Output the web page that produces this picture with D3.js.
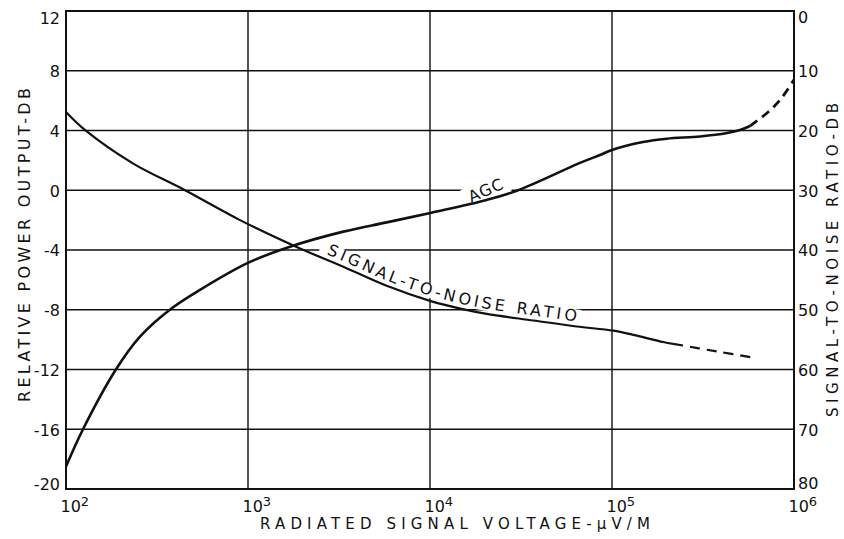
<!DOCTYPE html>
<html><head><meta charset="utf-8">
<script src="https://cdn.jsdelivr.net/npm/d3@7"></script>
<style>
html,body{margin:0;padding:0;background:#fff;}
svg{display:block;}
text{font-family:"DejaVu Sans",sans-serif;fill:#111;}
</style></head>
<body>
<svg id="chart" width="844" height="539"></svg>
<script>
// ---- data ----
const xTickValues = [1e2, 1e3, 1e4, 1e5, 1e6];
const xTickExponents = ["2", "3", "4", "5", "6"];
const leftTicks = [12, 8, 4, 0, -4, -8, -12, -16, -20];
const rightTicks = [0, 10, 20, 30, 40, 50, 60, 70, 80];

// AGC curve (relative power output, dB, left axis)
const agcVoltage = [100, 124, 188, 255, 372, 545, 1005, 1700, 3340, 5780, 10200, 20500, 30500, 66700, 85900, 100000, 148000, 200000, 305000, 429000, 505000, 573000];
const agcDb =      [-18.5, -16, -12, -9.8, -8, -6.67, -4.85, -3.78, -2.77, -2.15, -1.5, -0.65, 0, 1.83, 2.36, 2.7, 3.23, 3.45, 3.6, 3.83, 4.03, 4.3];
// AGC dashed extension
const agcDashVoltage = [573000, 711000, 838000, 1000000];
const agcDashDb =      [4.3, 5.17, 6.04, 7.4];

// Signal-to-noise ratio (dB, right axis)
const snrVoltage = [100, 127, 233, 451, 904, 1850, 3340, 5780, 10200, 15100, 20500, 37000, 64000, 101600, 131000, 191000, 217000];
const snrDb =      [16.9, 19.9, 25.5, 30, 35, 39.5, 42.8, 46.0, 48.6, 49.9, 50.7, 51.8, 52.8, 53.5, 54.2, 55.4, 55.7];
const snrDashVoltage = [217000, 380000, 597000];
const snrDashDb =      [55.7, 57.0, 58.0];

const xTitle = "RADIATED SIGNAL VOLTAGE-\u03bcV/M";
const yLeftTitle = "RELATIVE POWER OUTPUT-DB";
const yRightTitle = "SIGNAL-TO-NOISE RATIO-DB";
const agcLabel = "AGC";
const snrLabel = "SIGNAL-TO-NOISE RATIO";

// ---- layout ----
const L = 66, R = 794, T = 11, B = 489;
const svg = d3.select("#chart");
const x = d3.scaleLog().domain([1e2, 1e6]).range([L, R]);
const yL = d3.scaleLinear().domain([-20, 12]).range([B, T]);
const yR = d3.scaleLinear().domain([80, 0]).range([B, T]);
const ink = "#111";

// grid
const g = svg.append("g");
g.selectAll("line.h").data(leftTicks).join("line")
  .attr("x1", L).attr("x2", R)
  .attr("y1", d => yL(d)).attr("y2", d => yL(d))
  .attr("stroke", ink).attr("stroke-width", 1.4);
g.selectAll("line.v").data(xTickValues).join("line")
  .attr("y1", T).attr("y2", B)
  .attr("x1", d => x(d)).attr("x2", d => x(d))
  .attr("stroke", ink).attr("stroke-width", 1.4);
// frame
svg.append("rect").attr("x", L).attr("y", T).attr("width", R - L).attr("height", B - T)
  .attr("fill", "none").attr("stroke", ink).attr("stroke-width", 2);

// axes tick labels via d3 axes (domain & ticks hidden)
const fmt = d => (d < 0 ? "-" + Math.abs(d) : String(d));
const axL = svg.append("g").attr("transform", `translate(${L},0)`)
  .call(d3.axisLeft(yL).tickValues(leftTicks).tickFormat(fmt).tickSize(0).tickPadding(6));
const axR = svg.append("g").attr("transform", `translate(${R},0)`)
  .call(d3.axisRight(yR).tickValues(rightTicks).tickFormat(d => String(d)).tickSize(0).tickPadding(4));
[axL, axR].forEach(a => {
  a.select(".domain").remove();
  a.selectAll("text").attr("font-family", "DejaVu Sans").attr("font-size", 16).attr("fill", ink)
    .attr("dy", "0.36em");
});
axL.selectAll(".tick").filter(d => d === 12).select("text").attr("dy", "0.75em");
axL.selectAll(".tick").filter(d => d === -20).select("text").attr("dy", "0.05em");
axR.selectAll(".tick").filter(d => d === 0).select("text").attr("dy", "0.70em");
axR.selectAll(".tick").filter(d => d === 80).select("text").attr("dy", "-0.05em");

// x tick labels: 10 with superscript
const axB = svg.append("g").attr("transform", `translate(0,${B})`)
  .call(d3.axisBottom(x).tickValues(xTickValues).tickFormat(() => "").tickSize(0));
axB.select(".domain").remove();
axB.selectAll(".tick text").remove();
axB.selectAll(".tick").append("text")
  .attr("x", -6).attr("y", 23).attr("text-anchor", "start")
  .attr("font-size", 16).attr("fill", ink)
  .each(function (d, i) {
    const t = d3.select(this);
    t.append("tspan").text("10");
    t.append("tspan").attr("font-size", 13).attr("dy", -6).text(xTickExponents[i]);
  });

// titles
svg.append("text").attr("x", 260).attr("y", 529)
  .attr("font-size", 15).attr("textLength", 390).attr("lengthAdjust", "spacing")
  .text(xTitle);
svg.append("text").attr("transform", "translate(30,245) rotate(-90)")
  .attr("text-anchor", "middle").attr("font-size", 16)
  .attr("textLength", 314).attr("lengthAdjust", "spacing")
  .text(yLeftTitle);
svg.append("text").attr("transform", "translate(838,260) rotate(-90)")
  .attr("text-anchor", "middle").attr("font-size", 15)
  .attr("textLength", 314).attr("lengthAdjust", "spacing")
  .text(yRightTitle);

// AGC label with white knockout
const agcLbl = svg.append("g").attr("transform", `translate(486,190) rotate(-24)`);
const agcText = agcLbl.append("text").attr("text-anchor", "middle").attr("dy", "0.36em")
  .attr("font-size", 16).attr("letter-spacing", 1).text(agcLabel);
const bb = agcText.node().getBBox();
agcLbl.insert("rect", "text").attr("x", bb.x - 5).attr("y", bb.y - 1)
  .attr("width", bb.width + 10).attr("height", bb.height + 2).attr("fill", "#fff");

// curve generators
const smooth = d3.curveCatmullRom.alpha(0.5);
const lineL = d3.line().x(p => x(p.v)).y(p => yL(p.d)).curve(smooth);
const lineR = d3.line().x(p => x(p.v)).y(p => yR(p.d)).curve(smooth);

// SNR label along curve, with white band knocking out the grid behind it
const snrPts = snrVoltage.map((v, i) => ({ v, d: snrDb[i] }));
const labelPts = snrPts.filter(p => p.v >= 1850 && p.v <= 131000);
svg.append("defs").append("path").attr("id", "snrLabelPath").attr("d", lineR(labelPts));
const labelStart = 30;
const snrText = svg.append("text").attr("font-size", 16).attr("letter-spacing", 3.4).attr("dy", -5);
snrText.append("textPath").attr("href", "#snrLabelPath").attr("startOffset", labelStart)
  .text(snrLabel);
const labelLen = snrText.node().getComputedTextLength();
svg.insert("path", () => snrText.node())
  .attr("d", lineR(labelPts)).attr("transform", "translate(0,-10)")
  .attr("fill", "none").attr("stroke", "#fff").attr("stroke-width", 14)
  .attr("stroke-dasharray", `0,${labelStart - 4},${labelLen + 6},100000`);

// curves
const agcPts = agcVoltage.map((v, i) => ({ v, d: agcDb[i] }));
const agcDash = agcDashVoltage.map((v, i) => ({ v, d: agcDashDb[i] }));
const snrDash = snrDashVoltage.map((v, i) => ({ v, d: snrDashDb[i] }));
svg.append("path").attr("d", lineL(agcPts)).attr("fill", "none").attr("stroke", ink).attr("stroke-width", 2.6);
svg.append("path").attr("d", lineL(agcDash)).attr("fill", "none").attr("stroke", ink).attr("stroke-width", 2.8)
  .attr("stroke-dasharray", "9,6");
svg.append("path").attr("d", lineR(snrPts)).attr("fill", "none").attr("stroke", ink).attr("stroke-width", 2.2);
svg.append("path").attr("d", lineR(snrDash)).attr("fill", "none").attr("stroke", ink).attr("stroke-width", 2.2)
  .attr("stroke-dasharray", "10,7");
</script>
</body></html>
